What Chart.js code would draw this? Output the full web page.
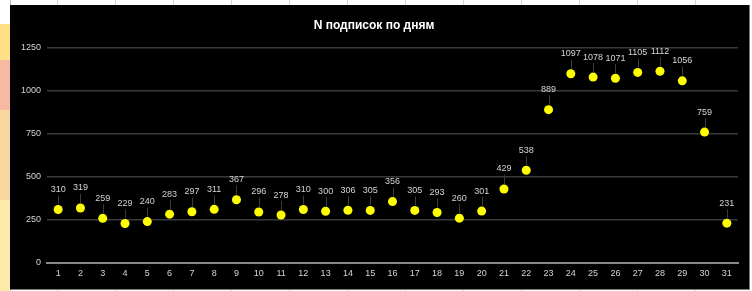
<!DOCTYPE html>
<html>
<head>
<meta charset="utf-8">
<script src="https://cdn.jsdelivr.net/npm/chart.js@4.4.1/dist/chart.umd.min.js"></script>
<style>
  html, body { margin: 0; padding: 0; }
  body {
    width: 752px; height: 291px; overflow: hidden; position: relative;
    background: #fff;
    background-image: repeating-linear-gradient(90deg, transparent 0 57px, #d4d4d4 57px 58px);
  }
  #cells {
    position: absolute; left: 0; top: 0; width: 10px; height: 291px;
    background: linear-gradient(180deg, #fff 0 24px, #ffe084 24px 60px, #f8b9a2 60px 110px, #fbd7a0 110px 200px, #fde9a8 200px 291px);
    border-right: 1px solid #bbb;
  }
  #box {
    position: absolute; left: 10px; top: 5px; width: 739px; height: 284px;
    background: #000; border: 1px solid #7a7a7a; border-top: none; border-left: none;
  }
</style>
</head>
<body>
<div id="cells"></div>
<div id="box"><canvas id="chart" width="739" height="284"></canvas></div>
<script>
// days of the month
const days = ["1","2","3","4","5","6","7","8","9","10","11","12","13","14","15","16",
  "17","18","19","20","21","22","23","24","25","26","27","28","29","30","31"];
// subscriptions per day
const subs = [310, 319, 259, 229, 240, 283, 297, 311, 367, 296, 278, 310, 300, 306, 305, 356,
  305, 293, 260, 301, 429, 538, 889, 1097, 1078, 1071, 1105, 1112, 1056, 759, 231];
const yTicks = [0, 250, 500, 750, 1000, 1250];

// value labels above points with small leader lines
const pointLabels = {
  id: "pointLabels",
  afterDatasetsDraw(chart) {
    const ctx = chart.ctx;
    const meta = chart.getDatasetMeta(0);
    ctx.save();
    ctx.font = "9px 'Liberation Sans', Arial, sans-serif";
    ctx.textAlign = "center";
    ctx.textBaseline = "middle";
    meta.data.forEach((pt, i) => {
      ctx.strokeStyle = "#3c3c3c";
      ctx.lineWidth = 1;
      ctx.beginPath();
      ctx.moveTo(Math.round(pt.x) + 0.5, pt.y - 14);
      ctx.lineTo(Math.round(pt.x) + 0.5, pt.y - 5);
      ctx.stroke();
      ctx.fillStyle = "#d4d4d4";
      ctx.fillText(subs[i], pt.x, pt.y - 20);
    });
    ctx.restore();
  }
};

new Chart(document.getElementById("chart"), {
  type: "line",
  data: {
    labels: days,
    datasets: [{
      data: subs,
      showLine: false,
      pointRadius: 4.5,
      pointHoverRadius: 4.5,
      pointBackgroundColor: "#ffff00",
      pointBorderColor: "#ffff00",
      pointBorderWidth: 0
    }]
  },
  options: {
    responsive: false,
    animation: false,
    events: [],
    layout: { padding: { left: 0, right: 11, top: 0, bottom: 0 } },
    plugins: {
      legend: { display: false },
      tooltip: { enabled: false },
      title: {
        display: true,
        text: "N подписок по дням",
        color: "#fff",
        font: { family: "'Liberation Sans', Arial, sans-serif", size: 12, weight: "bold" },
        padding: { top: 13, bottom: 15 }
      }
    },
    scales: {
      x: {
        offset: true,
        grid: { display: false, drawTicks: false },
        border: { display: true, color: "#8a8a8a", width: 2 },
        ticks: {
          color: "#d4d4d4", padding: 5, maxRotation: 0, autoSkip: false,
          font: { family: "'Liberation Sans', Arial, sans-serif", size: 9 }
        },
        afterFit(s) { s.height = 26; }
      },
      y: {
        min: 0, max: 1250,
        afterBuildTicks(s) { s.ticks = yTicks.map(v => ({ value: v })); },
        grid: {
          drawTicks: false,
          color: c => c.tick && c.tick.value === 0 ? "#8a8a8a" : "#3a3a3a",
          lineWidth: 1.5
        },
        border: { display: false },
        ticks: {
          color: "#d4d4d4", padding: 6,
          callback: v => String(v),
          font: { family: "'Liberation Sans', Arial, sans-serif", size: 9 }
        },
        afterFit(s) { s.width = 37; }
      }
    }
  },
  plugins: [pointLabels]
});
</script>
</body>
</html>
